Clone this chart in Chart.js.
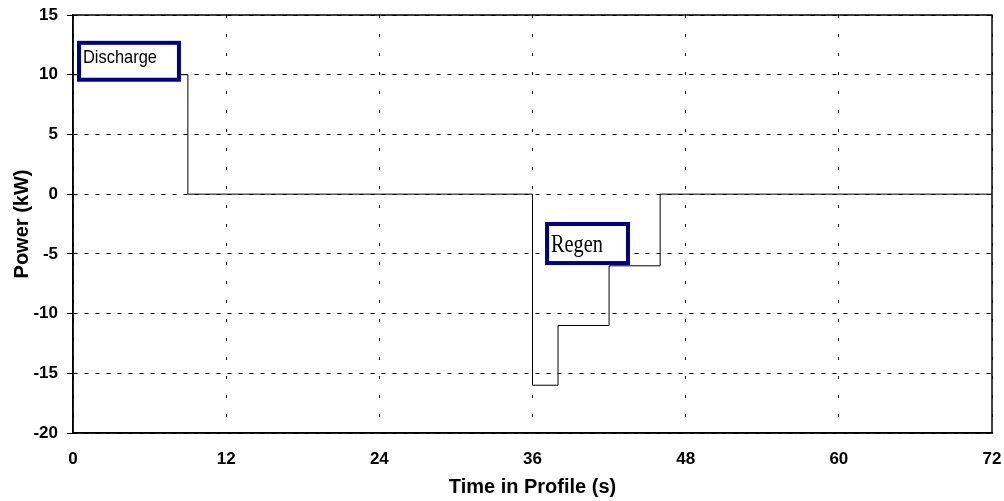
<!DOCTYPE html>
<html>
<head>
<meta charset="utf-8">
<script src="https://cdn.jsdelivr.net/npm/chart.js@4.4.0/dist/chart.umd.min.js"></script>
<style>
  html, body { margin: 0; padding: 0; background: #fff; }
</style>
</head>
<body>
<canvas id="myChart" width="1004" height="501"></canvas>
<script>
// Power profile, held value until the next time step
var timeSec = [0, 9, 36, 38, 42, 46, 72];
var powerKw = [10, 0, -16, -11, -6, 0, 0];

var xTicks = [0, 12, 24, 36, 48, 60, 72];
var yTicks = [-20, -15, -10, -5, 0, 5, 10, 15];

// Label boxes, in axis units
var notes = [
  { text: 'Discharge', x0: 0.47, x1: 8.3, y0: 12.67, y1: 9.58, tx: 0.78, ty: 10.98,
    font: '19px "Liberation Sans"', width: 74 },
  { text: 'Regen', x0: 37.14, x1: 43.48, y0: -2.5, y1: -5.77, tx: 37.45, ty: -4.85,
    font: '26px "Liberation Serif"', width: 52 }
];

var points = timeSec.map(function (t, i) { return { x: t, y: powerKw[i] }; });

// solid frame round the plot area
var framePlugin = {
  id: 'frame',
  afterDraw: function (chart) {
    var a = chart.chartArea, ctx = chart.ctx;
    ctx.save();
    ctx.strokeStyle = '#000';
    ctx.lineWidth = 1.5;
    ctx.strokeRect(a.left, a.top, a.right - a.left, a.bottom - a.top);
    ctx.restore();
  }
};

// boxed text labels
var notePlugin = {
  id: 'notes',
  afterDraw: function (chart) {
    var ctx = chart.ctx, xs = chart.scales.x, ys = chart.scales.y;
    notes.forEach(function (n) {
      var l = xs.getPixelForValue(n.x0), r = xs.getPixelForValue(n.x1);
      var t = ys.getPixelForValue(n.y0), b = ys.getPixelForValue(n.y1);
      ctx.save();
      ctx.fillStyle = '#fff';
      ctx.fillRect(l, t, r - l, b - t);
      ctx.strokeStyle = '#000080';
      ctx.lineWidth = 4;
      ctx.strokeRect(l, t, r - l, b - t);
      ctx.font = n.font;
      ctx.fillStyle = '#000';
      ctx.textBaseline = 'alphabetic';
      var w = ctx.measureText(n.text).width;
      var px = xs.getPixelForValue(n.tx), py = ys.getPixelForValue(n.ty);
      ctx.translate(px, py);
      ctx.scale(n.width / w, 1);
      ctx.fillText(n.text, 0, 0);
      ctx.restore();
    });
  }
};

var ctx = document.getElementById('myChart').getContext('2d');
var myChart = new Chart(ctx, {
  type: 'line',
  data: {
    datasets: [{
      data: points,
      stepped: 'before',
      borderColor: '#000',
      borderWidth: 1,
      pointRadius: 0,
      fill: false
    }]
  },
  options: {
    responsive: false,
    animation: false,
    layout: { padding: { top: 15, right: 12, left: 0, bottom: 0 } },
    plugins: { legend: { display: false }, tooltip: { enabled: false } },
    scales: {
      x: {
        type: 'linear',
        min: 0,
        max: 72,
        afterBuildTicks: function (s) { s.ticks = xTicks.map(function (v) { return { value: v }; }); },
        afterFit: function (s) { s.height = 68; s.paddingLeft = 0; s.paddingRight = 0; },
        grid: { color: '#000', lineWidth: 1, drawTicks: false },
        border: { color: '#000', width: 1.5, dash: [3, 16] },
        ticks: { color: '#000', padding: 16, maxRotation: 0, font: { family: 'Liberation Sans', size: 17, weight: 'bold' } },
        title: { display: true, text: 'Time in Profile (s)', color: '#000', padding: { top: 0, bottom: 2 },
                 font: { family: 'Liberation Sans', size: 20, weight: 'bold' } }
      },
      y: {
        type: 'linear',
        min: -20,
        max: 15,
        afterBuildTicks: function (s) { s.ticks = yTicks.map(function (v) { return { value: v }; }); },
        afterFit: function (s) { s.width = 73; s.paddingTop = 0; s.paddingBottom = 0; },
        grid: { color: '#000', lineWidth: 1, drawTicks: true, tickLength: 6, tickBorderDash: [] },
        border: { color: '#000', width: 1.5, dash: [4, 7] },
        ticks: { color: '#000', padding: 9, font: { family: 'Liberation Sans', size: 17, weight: 'bold' } },
        title: { display: true, text: 'Power (kW)', color: '#000', padding: { top: 10, bottom: 0 },
                 font: { family: 'Liberation Sans', size: 20, weight: 'bold' } }
      }
    }
  },
  plugins: [framePlugin, notePlugin]
});
</script>
</body>
</html>
